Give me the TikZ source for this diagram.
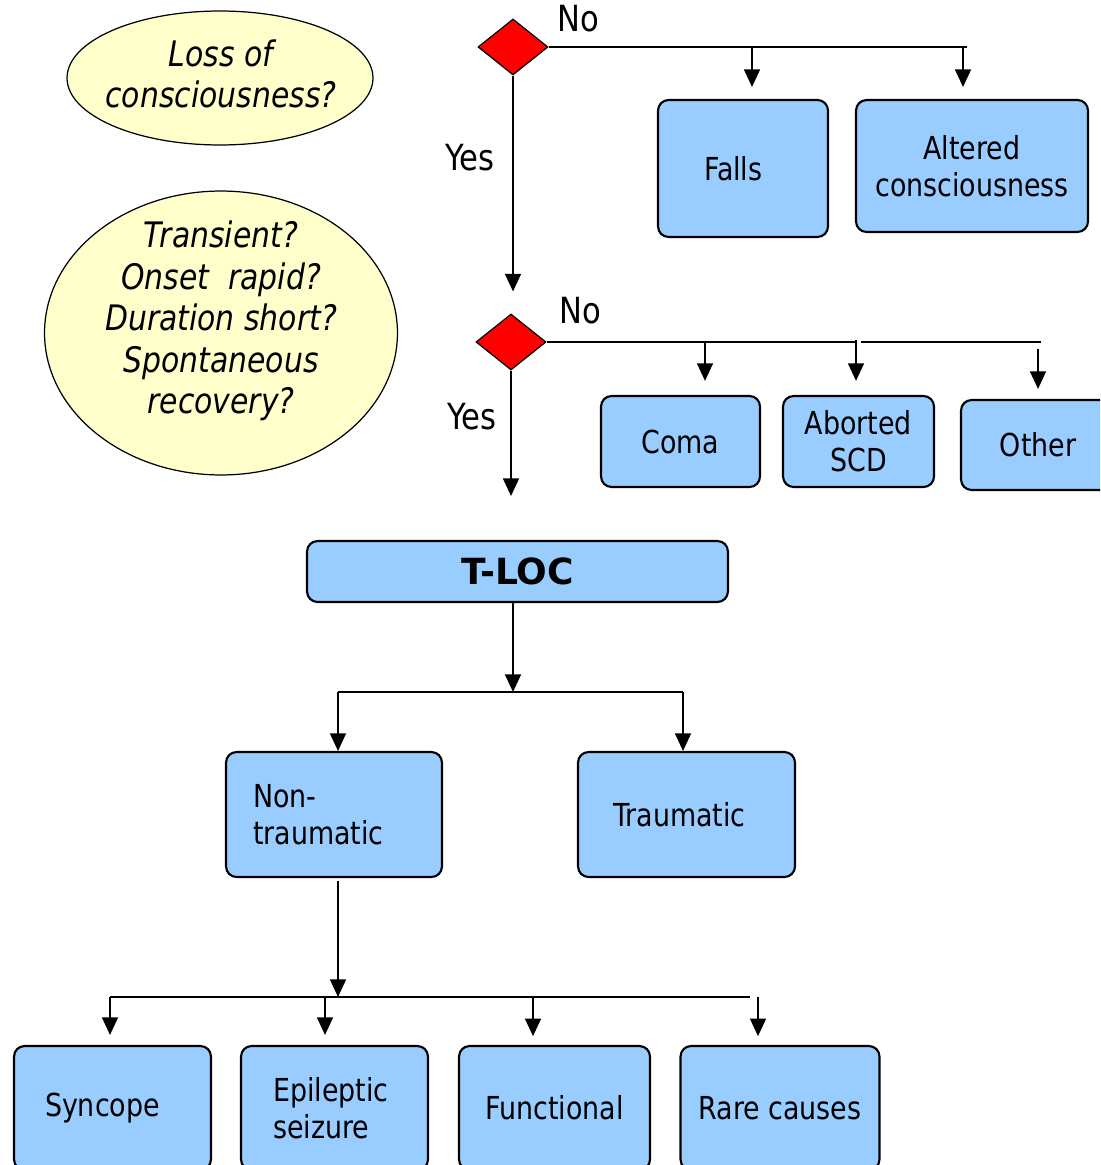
\documentclass[tikz,border=0pt]{standalone}
\usepackage{fontspec}
\setmainfont{DejaVu Sans}[FakeStretch=0.85, ItalicFont={DejaVu Sans Oblique}, BoldFont={DejaVu Sans Bold}]
\newfontfamily\headfont{DejaVu Sans Bold}
\usetikzlibrary{shapes.geometric,arrows.meta}
\definecolor{boxblue}{RGB}{153,204,255}
\definecolor{bubbleyellow}{RGB}{255,255,204}
\tikzset{
  box/.style={draw=black, line width=1.2pt, fill=boxblue, rounded corners=6pt, align=center,
    font=\fontsize{18}{21}\selectfont, inner sep=0pt},
  bubble/.style={ellipse, draw=black, line width=0.7pt, fill=bubbleyellow, inner sep=0pt},
  bubbletext/.style={align=center, inner sep=0pt, font=\itshape\fontsize{20}{23.6}\selectfont},
  decision/.style={diamond, draw=black, line width=0.7pt, fill=red, inner sep=0pt,
    minimum width=1.4cm, minimum height=1.12cm},
  conn/.style={line width=1.2pt},
  arr/.style={line width=1.2pt, -{Triangle[width=9pt,length=10pt]}},
  lbl/.style={font=\fontsize{20.5}{24}\selectfont, inner sep=0pt}
}
\begin{document}
\begin{tikzpicture}[x=0.02cm,y=-0.02cm]
\useasboundingbox (0,0) rectangle (1100,1165);
\clip (0,0) rectangle (1100,1165);

% question bubbles
\node[bubble, minimum width=6.12cm, minimum height=2.68cm] (locq) at (220,78) {};
\node[bubbletext] (locqtext) at (221,74) {Loss of\\consciousness?};
\node[bubble, minimum width=7.06cm, minimum height=5.68cm] (tlocq) at (221,333) {};
\node[bubbletext] (tlocqtext) at (221,321)
  {Transient?\\Onset\ \ rapid?\\Duration short?\\Spontaneous\\recovery?};

% decisions
\node[decision] (d1) at (513,47) {};
\node[decision] (d2) at (511,342) {};
\node[lbl] (no1) at (578,19) {No};
\node[lbl] (yes1) at (470,158) {Yes};
\node[lbl] (no2) at (580,311) {No};
\node[lbl] (yes2) at (472,417) {Yes};

% first row
\node[box, minimum width=3.4cm, minimum height=2.74cm, text width=1.56cm, align=left] (falls) at (743,168.5) {Falls};
\node[box, minimum width=4.64cm, minimum height=2.64cm] (altered) at (972,166) {Altered\\consciousness};

% second row
\node[box, minimum width=3.18cm, minimum height=1.82cm] (coma) at (680.5,441.5) {Coma};
\node[box, minimum width=3.02cm, minimum height=1.82cm] (scd) at (858.5,441.5) {Aborted\\SCD};
\node[box, minimum width=3.08cm, minimum height=1.8cm] (other) at (1038,445) {Other};

% T-LOC
\node[box, minimum width=8.42cm, minimum height=1.22cm, font=\headfont\fontsize{20.5}{24}\selectfont] (tloc) at (517.5,571.5) {T-LOC};

\node[box, minimum width=4.32cm, minimum height=2.5cm, text width=3.24cm, align=left] (nontrauma) at (334,814.5) {Non-\\traumatic};
\node[box, minimum width=4.34cm, minimum height=2.5cm, text width=2.94cm, align=left] (trauma) at (686.5,814.5) {Traumatic};

% bottom row
\node[box, minimum width=3.94cm, minimum height=2.48cm, text width=2.7cm, align=left] (syncope) at (112.5,1108) {Syncope};
\node[box, minimum width=3.74cm, minimum height=2.48cm, text width=2.46cm, align=left] (epil) at (334.5,1108) {Epileptic\\seizure};
\node[box, minimum width=3.82cm, minimum height=2.48cm] (func) at (554.5,1108) {Functional};
\node[box, minimum width=3.98cm, minimum height=2.48cm] (rare) at (780,1108) {Rare causes};

% connectors: first decision
\coordinate (b1end) at (967,46);
\draw[conn] (d1.east) -- (d1.east -| b1end);
\draw[arr, shorten >=6.8pt] ([xshift=0.18cm]falls.north |- d1.east) -- ([xshift=0.18cm]falls.north);
\draw[arr, shorten >=6.8pt] ([xshift=-0.18cm]altered.north |- d1.east) -- ([xshift=-0.18cm]altered.north);
\draw[arr, shorten >=12.5pt] (d1.south) -- (d1.south |- d2.north);

% connectors: second decision
\coordinate (b2mid) at (855,340);
\coordinate (b2end) at (1041,342);
\draw[conn] (d2.east) -- (d2.east -| b2mid);
\draw[conn] ([xshift=0.12cm]b2mid |- b2end) -- (b2end);
\draw[arr, shorten >=8pt] ([xshift=0.49cm]coma.north |- d2.east) -- ([xshift=0.49cm]coma.north);
\draw[arr, shorten >=8pt] ([xshift=-0.05cm]scd.north |- b2mid) -- ([xshift=-0.05cm]scd.north);
\draw[arr, shorten >=5.7pt] ([yshift=-0.14cm]other.north |- b2end) -- (other.north);
\draw[arr, shorten >=25pt] (d2.south) -- (d2.south |- tloc.north);

% T-LOC split
\coordinate (bar2) at (513,692);
\draw[arr] (tloc.south -| bar2) -- (bar2);
\draw[conn] ([xshift=0.08cm]nontrauma.north |- bar2) -- ([xshift=-0.07cm]trauma.north |- bar2);
\draw[arr] ([xshift=0.08cm]nontrauma.north |- bar2) -- ([xshift=0.08cm]nontrauma.north);
\draw[arr] ([xshift=-0.07cm]trauma.north |- bar2) -- ([xshift=-0.07cm]trauma.north);

% non-traumatic split
\coordinate (bar3) at (338,997);
\coordinate (bar3l) at (110,997);
\coordinate (bar3r) at (750,997);
\draw[arr] ([yshift=-0.06cm]nontrauma.south -| bar3) -- (bar3);
\draw[conn] (bar3l) -- (bar3r);
\draw[arr, shorten >=5.7pt] ([xshift=-0.05cm]syncope.north |- bar3) -- ([xshift=-0.05cm]syncope.north);
\draw[arr, shorten >=5.7pt] ([xshift=-0.19cm]epil.north |- bar3) -- ([xshift=-0.19cm]epil.north);
\draw[arr, shorten >=5pt] ([xshift=-0.43cm]func.north |- bar3) -- ([xshift=-0.43cm]func.north);
\draw[arr, shorten >=5pt] ([xshift=-0.44cm]rare.north |- bar3) -- ([xshift=-0.44cm]rare.north);
\end{tikzpicture}
\end{document}
